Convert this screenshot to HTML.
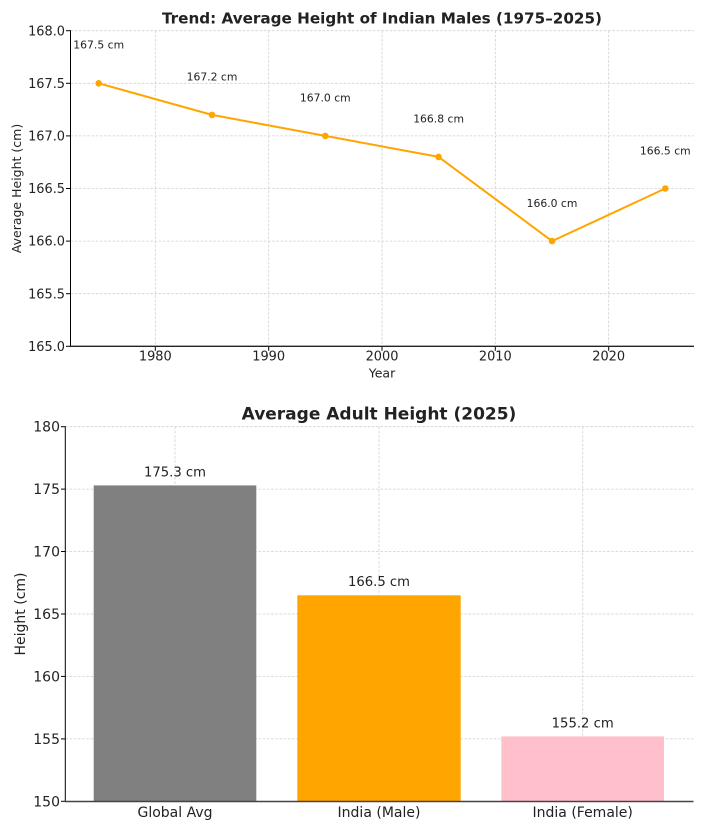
<!DOCTYPE html>
<html><head><meta charset="utf-8"><style>
html,body{margin:0;padding:0;background:#fff;}
svg{display:block;}
text{font-family:"DejaVu Sans","Liberation Sans",sans-serif;fill:#222;}
</style></head><body>
<svg width="706" height="834" viewBox="0 0 706 834" xmlns="http://www.w3.org/2000/svg">
<!-- TOP CHART -->
<g stroke="#d0d0d0" stroke-width="0.8" stroke-dasharray="2.6,1.6" fill="none">
<line x1="155.3" y1="30.7" x2="155.3" y2="346.3"/>
<line x1="268.7" y1="30.7" x2="268.7" y2="346.3"/>
<line x1="382" y1="30.7" x2="382" y2="346.3"/>
<line x1="495.3" y1="30.7" x2="495.3" y2="346.3"/>
<line x1="608.7" y1="30.7" x2="608.7" y2="346.3"/>
<line x1="70.5" y1="30.7" x2="694" y2="30.7"/>
<line x1="70.5" y1="83.3" x2="694" y2="83.3"/>
<line x1="70.5" y1="135.9" x2="694" y2="135.9"/>
<line x1="70.5" y1="188.5" x2="694" y2="188.5"/>
<line x1="70.5" y1="241.1" x2="694" y2="241.1"/>
<line x1="70.5" y1="293.7" x2="694" y2="293.7"/>
</g>
<g stroke="#000" stroke-width="1">
<line x1="70.5" y1="30.2" x2="70.5" y2="346.8"/>
<line x1="66" y1="30.7" x2="70.5" y2="30.7"/>
<line x1="66" y1="83.3" x2="70.5" y2="83.3"/>
<line x1="66" y1="135.9" x2="70.5" y2="135.9"/>
<line x1="66" y1="188.5" x2="70.5" y2="188.5"/>
<line x1="66" y1="241.1" x2="70.5" y2="241.1"/>
<line x1="66" y1="293.7" x2="70.5" y2="293.7"/>
<line x1="66" y1="346.3" x2="70.5" y2="346.3"/>
<line x1="155.3" y1="346.3" x2="155.3" y2="350.8"/>
<line x1="268.7" y1="346.3" x2="268.7" y2="350.8"/>
<line x1="382" y1="346.3" x2="382" y2="350.8"/>
<line x1="495.3" y1="346.3" x2="495.3" y2="350.8"/>
<line x1="608.7" y1="346.3" x2="608.7" y2="350.8"/>
</g>
<line x1="70" y1="346.3" x2="694" y2="346.3" stroke="#222" stroke-width="1.4"/>
<g font-size="12.9" text-anchor="end">
<text x="65" y="35.3">168.0</text>
<text x="65" y="87.9">167.5</text>
<text x="65" y="140.5">167.0</text>
<text x="65" y="193.1">166.5</text>
<text x="65" y="245.7">166.0</text>
<text x="65" y="298.3">165.5</text>
<text x="65" y="350.9">165.0</text>
</g>
<g font-size="12.9" text-anchor="middle">
<text x="155.3" y="360.5">1980</text>
<text x="268.7" y="360.5">1990</text>
<text x="382" y="360.5">2000</text>
<text x="495.3" y="360.5">2010</text>
<text x="608.7" y="360.5">2020</text>
</g>
<text x="382" y="377.5" font-size="12.5" text-anchor="middle">Year</text>
<text transform="translate(21,188.5) rotate(-90)" font-size="12.5" text-anchor="middle">Average Height (cm)</text>
<text x="382" y="23.5" font-size="15.2" font-weight="bold" text-anchor="middle">Trend: Average Height of Indian Males (1975–2025)</text>
<polyline points="98.7,83.3 212,114.9 325.3,135.9 438.6,156.9 552,241.1 665.3,188.5" fill="none" stroke="#FFA500" stroke-width="2" stroke-linejoin="round"/>
<g fill="#FFA500">
<circle cx="98.7" cy="83.3" r="3.3"/>
<circle cx="212" cy="114.9" r="3.3"/>
<circle cx="325.3" cy="135.9" r="3.3"/>
<circle cx="438.6" cy="156.9" r="3.3"/>
<circle cx="552" cy="241.1" r="3.3"/>
<circle cx="665.3" cy="188.5" r="3.3"/>
</g>
<g font-size="10.8" text-anchor="middle">
<text x="98.7" y="48.3">167.5 cm</text>
<text x="212" y="80.5">167.2 cm</text>
<text x="325.3" y="101.7">167.0 cm</text>
<text x="438.6" y="122.7">166.8 cm</text>
<text x="552" y="207">166.0 cm</text>
<text x="665.3" y="154.3">166.5 cm</text>
</g>

<!-- BOTTOM CHART -->
<g stroke="#d0d0d0" stroke-width="0.8" stroke-dasharray="2.6,1.6" fill="none">
<line x1="175" y1="426.7" x2="175" y2="801.3"/>
<line x1="379" y1="426.7" x2="379" y2="801.3"/>
<line x1="582.7" y1="426.7" x2="582.7" y2="801.3"/>
<line x1="65.3" y1="426.7" x2="693.5" y2="426.7"/>
<line x1="65.3" y1="489.1" x2="693.5" y2="489.1"/>
<line x1="65.3" y1="551.5" x2="693.5" y2="551.5"/>
<line x1="65.3" y1="614" x2="693.5" y2="614"/>
<line x1="65.3" y1="676.4" x2="693.5" y2="676.4"/>
<line x1="65.3" y1="738.9" x2="693.5" y2="738.9"/>
</g>
<rect x="93.7" y="485.4" width="162.6" height="315.9" fill="#808080"/>
<rect x="297.3" y="595.3" width="163.4" height="206" fill="#FFA500"/>
<rect x="501.3" y="736.4" width="162.7" height="64.9" fill="#FFC0CB"/>
<g stroke="#000" stroke-width="1">
<line x1="65.3" y1="426.2" x2="65.3" y2="801.8"/>
<line x1="61" y1="426.7" x2="65.3" y2="426.7"/>
<line x1="61" y1="489.1" x2="65.3" y2="489.1"/>
<line x1="61" y1="551.5" x2="65.3" y2="551.5"/>
<line x1="61" y1="614" x2="65.3" y2="614"/>
<line x1="61" y1="676.4" x2="65.3" y2="676.4"/>
<line x1="61" y1="738.9" x2="65.3" y2="738.9"/>
<line x1="61" y1="801.3" x2="65.3" y2="801.3"/>
</g>
<line x1="65" y1="801.5" x2="693.5" y2="801.5" stroke="#444" stroke-width="1.6"/>
<g font-size="14" text-anchor="end">
<text x="60" y="431.7">180</text>
<text x="60" y="494.1">175</text>
<text x="60" y="556.5">170</text>
<text x="60" y="619">165</text>
<text x="60" y="681.4">160</text>
<text x="60" y="743.9">155</text>
<text x="60" y="806.3">150</text>
</g>
<g font-size="14" text-anchor="middle">
<text x="175" y="817">Global Avg</text>
<text x="379" y="817">India (Male)</text>
<text x="582.7" y="817">India (Female)</text>
</g>
<text transform="translate(25,614) rotate(-90)" font-size="14" text-anchor="middle">Height (cm)</text>
<text x="379" y="419.3" font-size="17" font-weight="bold" text-anchor="middle">Average Adult Height (2025)</text>
<g font-size="13.2" text-anchor="middle">
<text x="175" y="476.4">175.3 cm</text>
<text x="379" y="586.2">166.5 cm</text>
<text x="582.7" y="727.5">155.2 cm</text>
</g>
</svg>
</body></html>
